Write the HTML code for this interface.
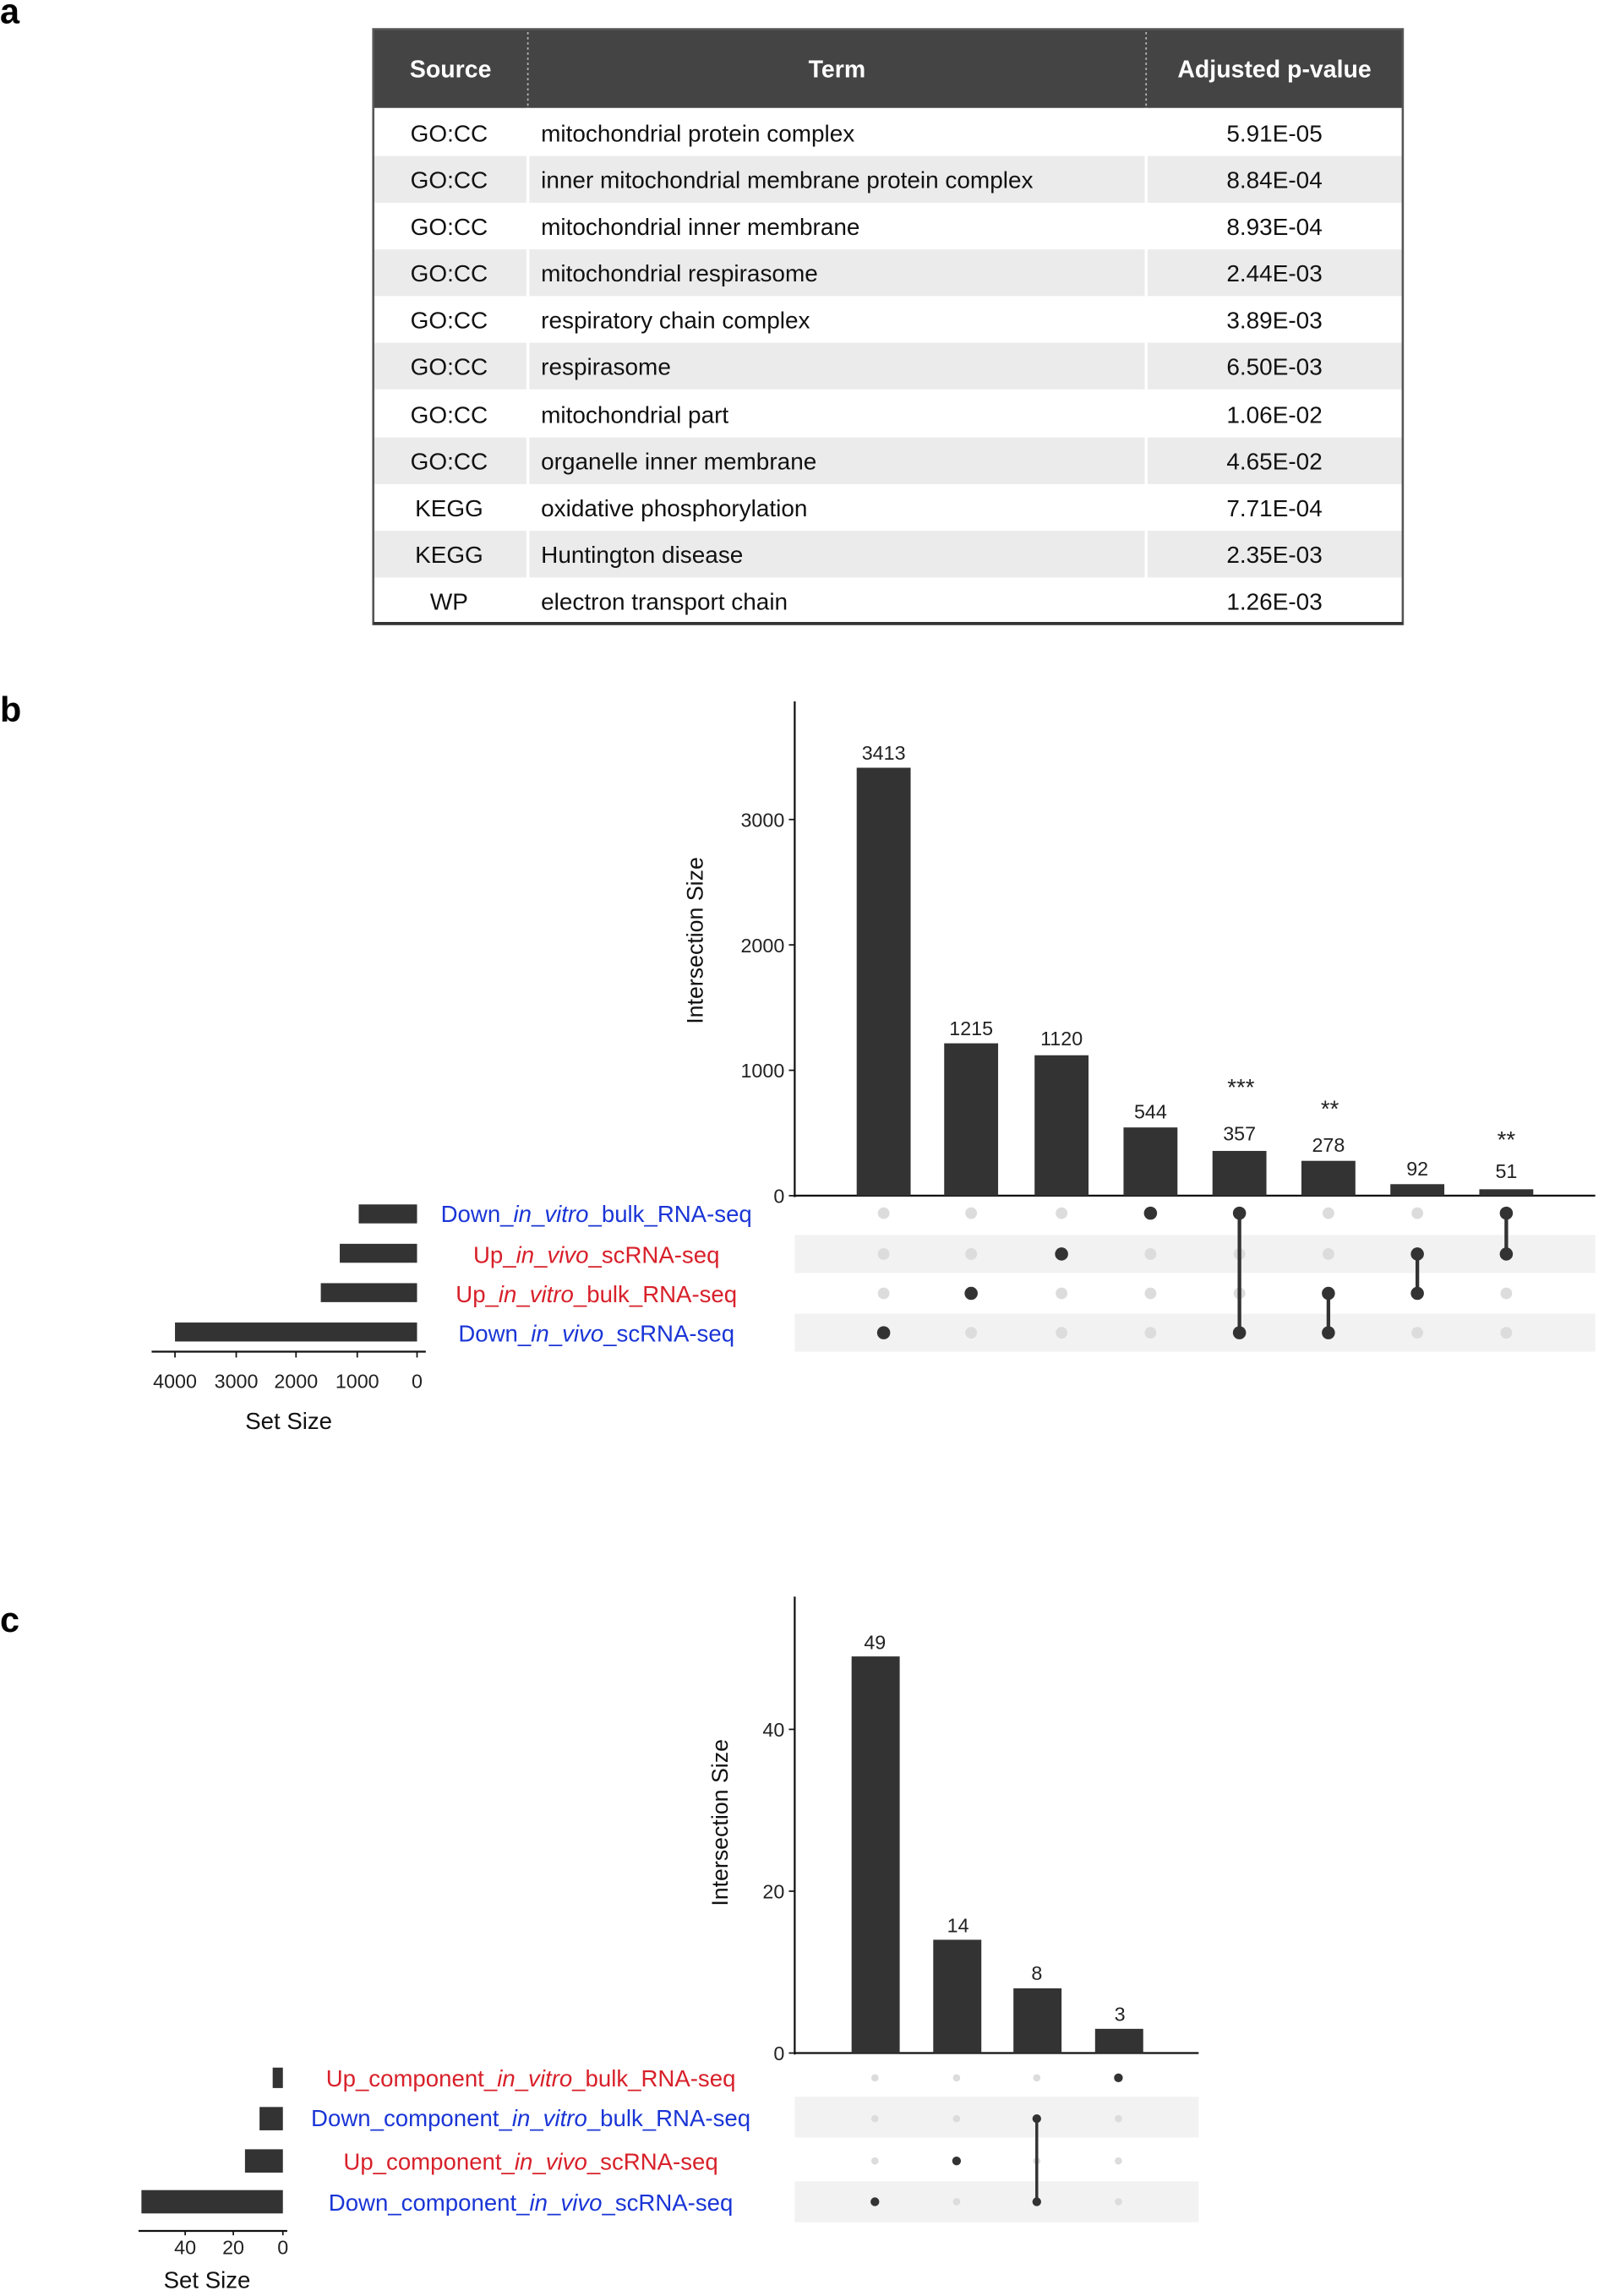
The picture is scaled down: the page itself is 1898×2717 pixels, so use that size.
<!DOCTYPE html>
<html><head><meta charset="utf-8"><style>
html,body{margin:0;padding:0;background:#fff;}
svg{display:block;}
text{font-family:"Liberation Sans",Arial,sans-serif;}
</style></head><body>
<svg width="1898" height="2717" viewBox="0 0 1100 1574.6" xmlns="http://www.w3.org/2000/svg">
<rect width="1100" height="1574.6" fill="#fff"/>
<!-- panel a -->
<text x="0" y="16" font-size="24" font-weight="bold">a</text>
<rect x="256" y="20" width="706" height="54" fill="#444"/>
<line x1="362" y1="22" x2="362" y2="73" stroke="#bbb" stroke-dasharray="1.5,2"/>
<line x1="786" y1="22" x2="786" y2="73" stroke="#bbb" stroke-dasharray="1.5,2"/>
<g font-size="16.5" font-weight="bold" fill="#fff" text-anchor="middle">
<text x="309" y="53">Source</text><text x="574" y="53">Term</text><text x="874" y="53">Adjusted p-value</text>
</g>
<g fill="#ebebeb">
<rect x="256" y="107" width="706" height="32"/>
<rect x="256" y="171" width="706" height="32"/>
<rect x="256" y="235" width="706" height="32"/>
<rect x="256" y="300" width="706" height="32"/>
<rect x="256" y="364" width="706" height="32"/>
</g>
<line x1="362" y1="74" x2="362" y2="428" stroke="#fff" stroke-width="2"/>
<line x1="786" y1="74" x2="786" y2="428" stroke="#fff" stroke-width="2"/>
<rect x="256" y="20" width="706" height="408" fill="none" stroke="#555" stroke-width="1.5"/>
<line x1="256" y1="427.5" x2="962" y2="427.5" stroke="#333" stroke-width="2"/>
<g font-size="16.2" fill="#111">
<g text-anchor="middle">
<text x="308" y="97">GO:CC</text><text x="308" y="129">GO:CC</text><text x="308" y="161">GO:CC</text><text x="308" y="193">GO:CC</text><text x="308" y="225">GO:CC</text><text x="308" y="257">GO:CC</text><text x="308" y="290">GO:CC</text><text x="308" y="322">GO:CC</text><text x="308" y="354">KEGG</text><text x="308" y="386">KEGG</text><text x="308" y="418">WP</text>
<text x="874" y="97">5.91E-05</text><text x="874" y="129">8.84E-04</text><text x="874" y="161">8.93E-04</text><text x="874" y="193">2.44E-03</text><text x="874" y="225">3.89E-03</text><text x="874" y="257">6.50E-03</text><text x="874" y="290">1.06E-02</text><text x="874" y="322">4.65E-02</text><text x="874" y="354">7.71E-04</text><text x="874" y="386">2.35E-03</text><text x="874" y="418">1.26E-03</text>
</g>
<text x="371" y="97">mitochondrial protein complex</text>
<text x="371" y="129">inner mitochondrial membrane protein complex</text>
<text x="371" y="161">mitochondrial inner membrane</text>
<text x="371" y="193">mitochondrial respirasome</text>
<text x="371" y="225">respiratory chain complex</text>
<text x="371" y="257">respirasome</text>
<text x="371" y="290">mitochondrial part</text>
<text x="371" y="322">organelle inner membrane</text>
<text x="371" y="354">oxidative phosphorylation</text>
<text x="371" y="386">Huntington disease</text>
<text x="371" y="418">electron transport chain</text>
</g>

<!-- panel b -->
<text x="0" y="495" font-size="24" font-weight="bold">b</text>
<rect x="545" y="847" width="549" height="26" fill="#f2f2f2"/>
<rect x="545" y="901" width="549" height="26" fill="#f2f2f2"/>
<line x1="545" y1="481" x2="545" y2="821" stroke="#111" stroke-width="1.3"/>
<line x1="545" y1="820" x2="1094" y2="820" stroke="#111" stroke-width="1.3"/>
<g stroke="#111"><line x1="541" y1="820" x2="545" y2="820"/><line x1="541" y1="734" x2="545" y2="734"/><line x1="541" y1="648" x2="545" y2="648"/><line x1="541" y1="562" x2="545" y2="562"/></g>
<g font-size="13.5" text-anchor="end" fill="#222">
<text x="538" y="825">0</text><text x="538" y="739">1000</text><text x="538" y="653">2000</text><text x="538" y="567">3000</text>
</g>
<text transform="translate(482,645) rotate(-90)" font-size="15.5" text-anchor="middle" fill="#111">Intersection Size</text>
<g fill="#333">
<rect x="587.5" y="526.5" width="37" height="293.5"/>
<rect x="647.5" y="715.5" width="37" height="104.5"/>
<rect x="709.5" y="723.7" width="37" height="96.3"/>
<rect x="770.5" y="773.2" width="37" height="46.8"/>
<rect x="831.5" y="789.3" width="37" height="30.7"/>
<rect x="892.5" y="796.1" width="37" height="23.9"/>
<rect x="953.5" y="812.1" width="37" height="7.9"/>
<rect x="1014.5" y="815.6" width="37" height="4.4"/>
</g>
<g font-size="13.5" text-anchor="middle" fill="#222">
<text x="606" y="521">3413</text><text x="666" y="710">1215</text><text x="728" y="717">1120</text><text x="789" y="767">544</text><text x="850" y="782">357</text><text x="911" y="790">278</text><text x="972" y="806">92</text><text x="1033" y="808">51</text>
</g>
<g font-size="16" text-anchor="middle" fill="#222">
<text x="851" y="751">***</text><text x="912" y="766">**</text><text x="1033" y="787">**</text>
</g>
<g fill="#dcdcdc">
<circle cx="606" cy="832" r="4"/><circle cx="606" cy="860" r="4"/><circle cx="606" cy="887" r="4"/>
<circle cx="666" cy="832" r="4"/><circle cx="666" cy="860" r="4"/><circle cx="666" cy="914" r="4"/>
<circle cx="728" cy="832" r="4"/><circle cx="728" cy="887" r="4"/><circle cx="728" cy="914" r="4"/>
<circle cx="789" cy="860" r="4"/><circle cx="789" cy="887" r="4"/><circle cx="789" cy="914" r="4"/>
<circle cx="850" cy="860" r="4"/><circle cx="850" cy="887" r="4"/>
<circle cx="911" cy="832" r="4"/><circle cx="911" cy="860" r="4"/>
<circle cx="972" cy="832" r="4"/><circle cx="972" cy="914" r="4"/>
<circle cx="1033" cy="887" r="4"/><circle cx="1033" cy="914" r="4"/>
</g>
<g stroke="#333" stroke-width="2.5"><line x1="850" y1="832" x2="850" y2="914"/><line x1="911" y1="887" x2="911" y2="914"/><line x1="972" y1="860" x2="972" y2="887"/><line x1="1033" y1="832" x2="1033" y2="860"/></g>
<g fill="#333">
<circle cx="606" cy="914" r="4.5"/><circle cx="666" cy="887" r="4.5"/><circle cx="728" cy="860" r="4.5"/><circle cx="789" cy="832" r="4.5"/>
<circle cx="850" cy="832" r="4.5"/><circle cx="850" cy="914" r="4.5"/><circle cx="911" cy="887" r="4.5"/><circle cx="911" cy="914" r="4.5"/>
<circle cx="972" cy="860" r="4.5"/><circle cx="972" cy="887" r="4.5"/><circle cx="1033" cy="832" r="4.5"/><circle cx="1033" cy="860" r="4.5"/>
</g>
<g fill="#333">
<rect x="246" y="826" width="40" height="13"/>
<rect x="233" y="853" width="53" height="13"/>
<rect x="220" y="880" width="66" height="13"/>
<rect x="120" y="907" width="166" height="13"/>
</g>
<line x1="104" y1="927" x2="292" y2="927" stroke="#111" stroke-width="1.3"/>
<g stroke="#111"><line x1="120" y1="927" x2="120" y2="931"/><line x1="162" y1="927" x2="162" y2="931"/><line x1="203" y1="927" x2="203" y2="931"/><line x1="245" y1="927" x2="245" y2="931"/><line x1="286" y1="927" x2="286" y2="931"/></g>
<g font-size="13.5" text-anchor="middle" fill="#222">
<text x="120" y="952">4000</text><text x="162" y="952">3000</text><text x="203" y="952">2000</text><text x="245" y="952">1000</text><text x="286" y="952">0</text>
</g>
<text x="198" y="980" font-size="16" text-anchor="middle" fill="#111">Set Size</text>
<g font-size="16" text-anchor="middle">
<text x="409" y="838" fill="#1a35d6">Down_<tspan font-style="italic">in</tspan>_<tspan font-style="italic">vitro</tspan>_bulk_RNA-seq</text>
<text x="409" y="866" fill="#d8202a">Up_<tspan font-style="italic">in</tspan>_<tspan font-style="italic">vivo</tspan>_scRNA-seq</text>
<text x="409" y="893" fill="#d8202a">Up_<tspan font-style="italic">in</tspan>_<tspan font-style="italic">vitro</tspan>_bulk_RNA-seq</text>
<text x="409" y="920" fill="#1a35d6">Down_<tspan font-style="italic">in</tspan>_<tspan font-style="italic">vivo</tspan>_scRNA-seq</text>
</g>

<!-- panel c -->
<text x="0" y="1119" font-size="24" font-weight="bold">c</text>
<rect x="545" y="1438" width="277" height="28" fill="#f2f2f2"/>
<rect x="545" y="1496" width="277" height="28" fill="#f2f2f2"/>
<line x1="545" y1="1095" x2="545" y2="1409" stroke="#111" stroke-width="1.3"/>
<line x1="545" y1="1408" x2="822" y2="1408" stroke="#111" stroke-width="1.3"/>
<g stroke="#111"><line x1="541" y1="1408" x2="545" y2="1408"/><line x1="541" y1="1297" x2="545" y2="1297"/><line x1="541" y1="1186" x2="545" y2="1186"/></g>
<g font-size="13.5" text-anchor="end" fill="#222">
<text x="538" y="1413">0</text><text x="538" y="1302">20</text><text x="538" y="1191">40</text>
</g>
<text transform="translate(499,1250) rotate(-90)" font-size="15.5" text-anchor="middle" fill="#111">Intersection Size</text>
<g fill="#333">
<rect x="584" y="1136" width="33" height="272"/>
<rect x="640" y="1330.3" width="33" height="77.7"/>
<rect x="695" y="1363.6" width="33" height="44.4"/>
<rect x="751" y="1391.4" width="33" height="16.6"/>
</g>
<g font-size="13.5" text-anchor="middle" fill="#222">
<text x="600" y="1131">49</text><text x="657" y="1325">14</text><text x="711" y="1358">8</text><text x="768" y="1386">3</text>
</g>
<g fill="#dcdcdc">
<circle cx="600" cy="1425" r="2.5"/><circle cx="600" cy="1453" r="2.5"/><circle cx="600" cy="1482" r="2.5"/>
<circle cx="656" cy="1425" r="2.5"/><circle cx="656" cy="1453" r="2.5"/><circle cx="656" cy="1510" r="2.5"/>
<circle cx="711" cy="1425" r="2.5"/><circle cx="711" cy="1482" r="2.5"/>
<circle cx="767" cy="1453" r="2.5"/><circle cx="767" cy="1482" r="2.5"/><circle cx="767" cy="1510" r="2.5"/>
</g>
<line x1="711" y1="1453" x2="711" y2="1510" stroke="#333" stroke-width="2"/>
<g fill="#333">
<circle cx="600" cy="1510" r="3"/><circle cx="656" cy="1482" r="3"/><circle cx="711" cy="1453" r="3"/><circle cx="711" cy="1510" r="3"/><circle cx="767" cy="1425" r="3"/>
</g>
<g fill="#333">
<rect x="187" y="1418" width="7" height="14"/>
<rect x="178" y="1445" width="16" height="16"/>
<rect x="168" y="1474" width="26" height="16"/>
<rect x="97" y="1502" width="97" height="16"/>
</g>
<line x1="95" y1="1530" x2="197" y2="1530" stroke="#111" stroke-width="1.3"/>
<g stroke="#111"><line x1="127" y1="1530" x2="127" y2="1533"/><line x1="160" y1="1530" x2="160" y2="1533"/><line x1="194" y1="1530" x2="194" y2="1533"/></g>
<g font-size="13.5" text-anchor="middle" fill="#222">
<text x="127" y="1546">40</text><text x="160" y="1546">20</text><text x="194" y="1546">0</text>
</g>
<text x="142" y="1569" font-size="16" text-anchor="middle" fill="#111">Set Size</text>
<g font-size="16" text-anchor="middle">
<text x="364" y="1431" fill="#d8202a">Up_component_<tspan font-style="italic">in</tspan>_<tspan font-style="italic">vitro</tspan>_bulk_RNA-seq</text>
<text x="364" y="1458" fill="#1a35d6">Down_component_<tspan font-style="italic">in</tspan>_<tspan font-style="italic">vitro</tspan>_bulk_RNA-seq</text>
<text x="364" y="1488" fill="#d8202a">Up_component_<tspan font-style="italic">in</tspan>_<tspan font-style="italic">vivo</tspan>_scRNA-seq</text>
<text x="364" y="1516" fill="#1a35d6">Down_component_<tspan font-style="italic">in</tspan>_<tspan font-style="italic">vivo</tspan>_scRNA-seq</text>
</g>
</svg>
</body></html>
